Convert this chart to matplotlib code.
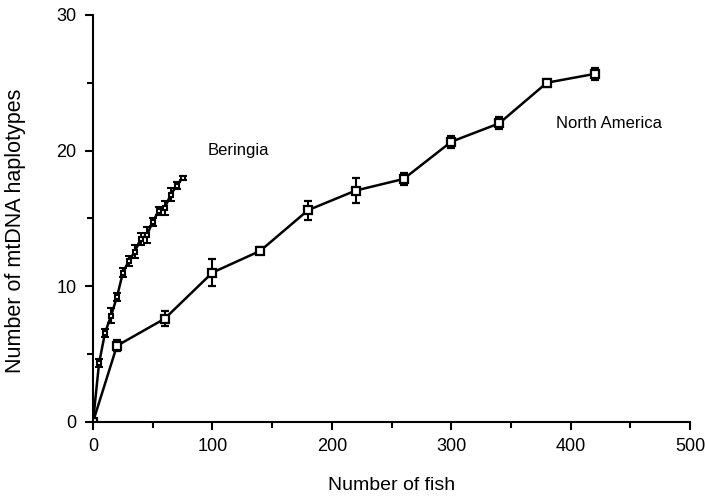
import matplotlib
matplotlib.use('Agg')
import matplotlib.pyplot as plt
from matplotlib.ticker import MultipleLocator

plt.rcParams['font.family'] = ['Liberation Sans', 'DejaVu Sans']

# Datos
na_fish = [0, 20, 60, 100, 140, 180, 220, 260, 300, 340, 380, 420]
na_haps = [0, 5.6, 7.6, 11.0, 12.6, 15.6, 17.05, 17.9, 20.65, 22.0, 25.0, 25.65]
na_err = [0, 0.4, 0.55, 1.0, 0.25, 0.7, 0.9, 0.45, 0.45, 0.45, 0.3, 0.45]

ber_fish = [0, 5, 10, 15, 20, 25, 30, 35, 40, 45, 50, 55, 60, 65, 70, 75]
ber_haps = [0, 4.3, 6.55, 7.8, 9.2, 11.0, 11.85, 12.55, 13.5, 13.75, 14.75,
            15.55, 15.75, 16.75, 17.4, 18.0]
ber_err = [0, 0.3, 0.3, 0.55, 0.3, 0.35, 0.35, 0.45, 0.45, 0.6, 0.3,
           0.3, 0.5, 0.45, 0.25, 0.15]

fig = plt.figure(figsize=(7.05, 4.97), dpi=100)
ax = fig.add_axes([0.132, 0.1515, 0.847, 0.8185])

ax.errorbar(ber_fish, ber_haps, yerr=ber_err, color='black', lw=1.8,
            marker='s', markersize=3.5, markerfacecolor='white',
            markeredgecolor='black', markeredgewidth=1.5,
            ecolor='black', elinewidth=1.5, capsize=3, capthick=2)
ax.errorbar(na_fish, na_haps, yerr=na_err, color='black', lw=1.8,
            marker='s', markersize=6, markerfacecolor='white',
            markeredgecolor='black', markeredgewidth=1.6,
            ecolor='black', elinewidth=1.5, capsize=3, capthick=2)

ax.text(96, 20.0, 'Beringia', fontsize=12, va='center', ha='left')
ax.text(388, 22.0, 'North America', fontsize=12, va='center', ha='left')

ax.set_xlim(0, 500)
ax.set_ylim(0, 30)
ax.xaxis.set_major_locator(MultipleLocator(100))
ax.xaxis.set_minor_locator(MultipleLocator(50))
ax.yaxis.set_major_locator(MultipleLocator(10))
ax.yaxis.set_minor_locator(MultipleLocator(5))
ax.tick_params(which='major', direction='out', length=6, width=1.5,
               labelsize=13, pad=6)
ax.tick_params(which='minor', direction='out', length=4, width=1.5)

for s in ['top', 'right']:
    ax.spines[s].set_visible(False)
for s in ['left', 'bottom']:
    ax.spines[s].set_linewidth(1.5)

ax.set_xlabel('Number of fish', fontsize=14)
ax.set_ylabel('Number of mtDNA haplotypes', fontsize=15.5)
ax.xaxis.set_label_coords(0.5, -0.135)
ax.yaxis.set_label_coords(-0.112, 0.47)

fig.savefig('out.png', dpi=100)
